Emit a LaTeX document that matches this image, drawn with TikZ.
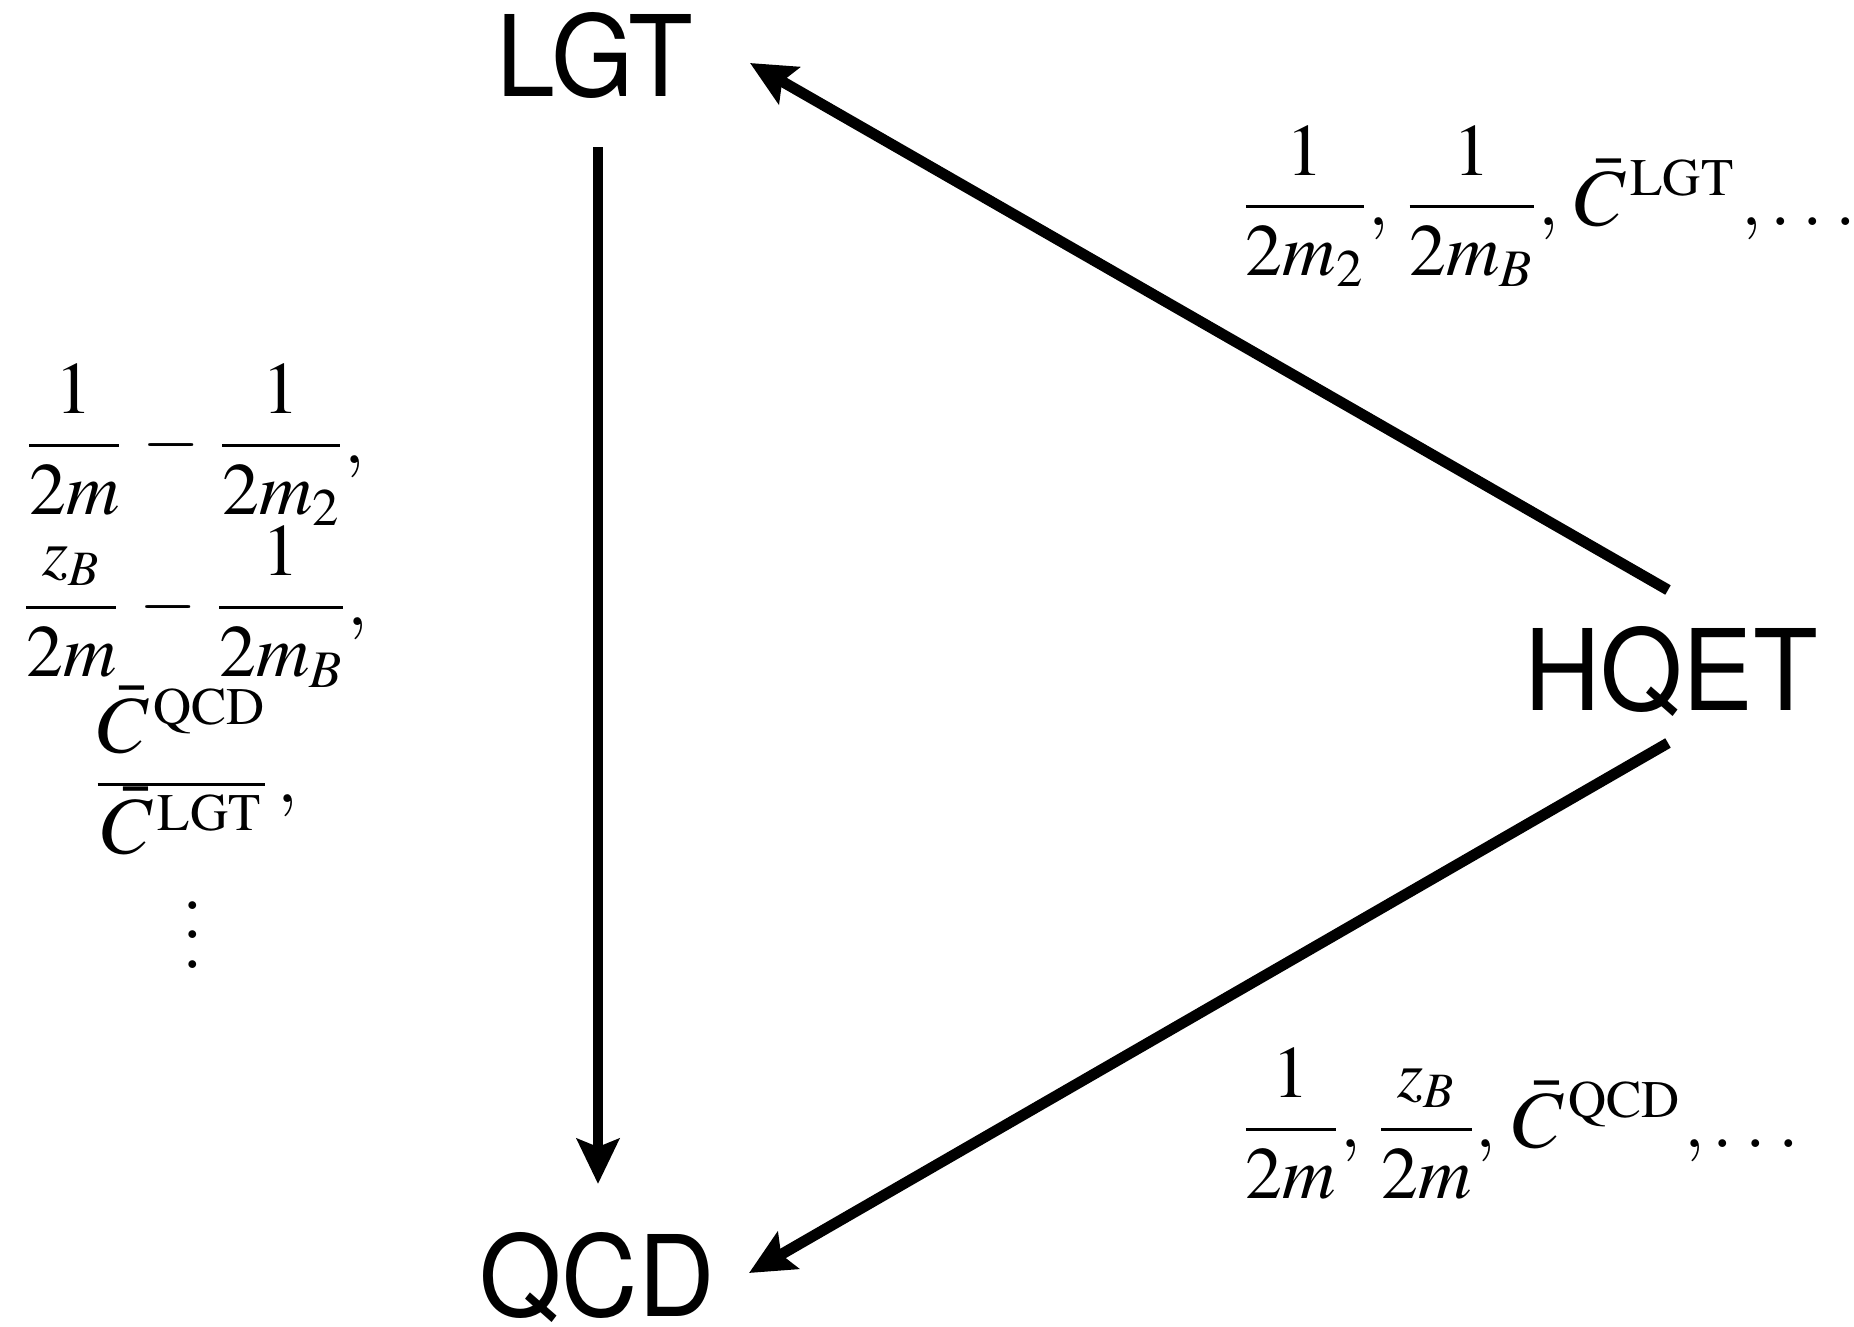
\documentclass[tikz,border=0pt]{standalone}
\usepackage{amsmath}
\usepackage{mathptmx}
\usepackage[no-math]{fontspec}
\newfontfamily\hv[FakeStretch=0.94]{TeX Gyre Heros}
\usetikzlibrary{arrows.meta}
\DeclareMathSizes{21}{21}{15}{10}
\newcommand{\Cb}{\mbox{\fontsize{23}{23}\selectfont$\bar{C}$}}
\newcommand{\sups}[2][8.5pt]{\mkern1mu\mbox{\fontsize{15}{15}\selectfont\raisebox{#1}{$\mathrm{#2}$}}}
\newcommand{\zB}{\mbox{\fontsize{19}{19}\selectfont$z_B$}}
\newcommand{\mydots}{.\mkern3mu.\mkern3mu.}
\newcommand{\cm}{,\mkern2mu}
\newcommand{\mn}{\mkern2mu-\mkern2mu}
\begin{document}
\begin{tikzpicture}[x=0.01cm,y=-0.01cm,
  lab/.style={font=\hv\fontsize{32}{32}\selectfont, inner sep=0pt, anchor=base},
  mth/.style={font=\fontsize{21}{25}\selectfont, inner sep=0pt},
  arr/.style={line width=3.1pt, -{Stealth[length=0.45cm,width=0.42cm,inset=0.08cm]}}]
\useasboundingbox (0,0) rectangle (1854,1327);
% main nodes
\node[lab] (lgt)  at (595,97)   {LGT};
\node[lab] (qcd)  at (597,1316) {QCD};
\node[lab] (hqet) at (1671,710) {HQET};
% arrows
\draw[arr] ([shift={(3,50)}]lgt.base) -- ([shift={(1,-132)}]qcd.base);
\draw[arr] ([shift={(-3,-120)}]hqet.base) -- ([shift={(155,-34)}]lgt.base);
\draw[arr] ([shift={(-3,33)}]hqet.base) -- ([shift={(152,-43)}]qcd.base);
% labels
\node[mth, anchor=base west] (tr) at (1241,225)
  {$\dfrac{1}{2m_2}\cm\dfrac{1}{2m_B}\cm\Cb\sups{LGT}\mkern2mu,\mydots$};
\node[mth, anchor=base west] (br) at (1241,1147.5)
  {$\dfrac{1}{2m}\cm\dfrac{\zB}{2m}\cm\Cb\sups{QCD}\mkern1mu,\mydots$};
\node[mth, anchor=base] (l1) at (195,463.5)
  {$\dfrac{1}{2m}\mn\dfrac{1}{2m_2},$};
\node[mth, anchor=base] (l2) at (195,625.5)
  {$\dfrac{\zB}{2m}\mn\dfrac{1}{2m_B},$};
\node[mth, anchor=base] (l3) at (195.5,802.5)
  {$\dfrac{\Cb\sups[8pt]{QCD}}{\smash[t]{\Cb\sups[6.5pt]{LGT}}}\mkern2mu,$};
\node[inner sep=0pt] (vd) at (193,935)
  {\fontsize{21}{21}\selectfont\vbox{\baselineskip=8.4pt\lineskiplimit=-20pt\hbox{$.$}\hbox{$.$}\hbox{$.$}}};
\end{tikzpicture}
\end{document}
